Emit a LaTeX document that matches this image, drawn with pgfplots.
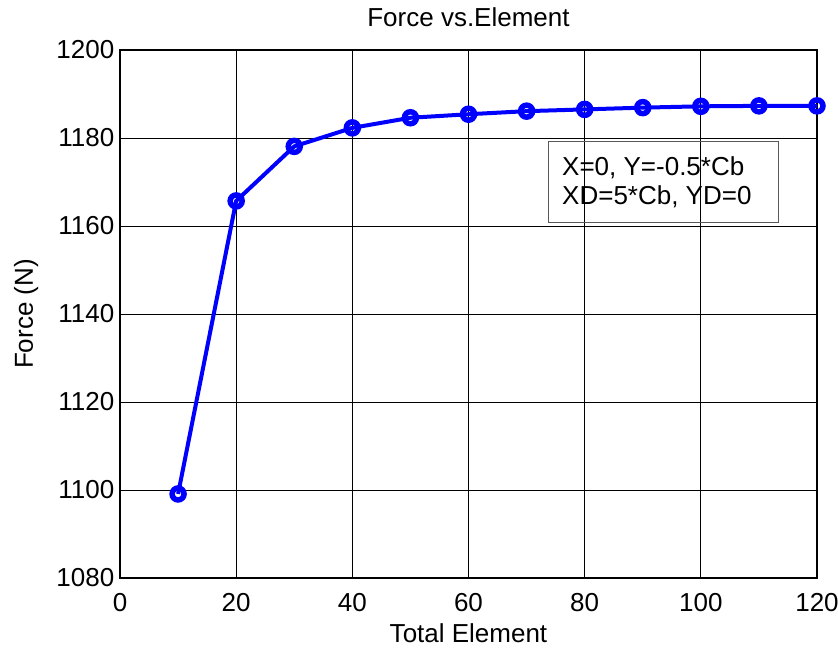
\documentclass[border=0pt]{standalone}
\usepackage{pgfplots}
\pgfplotsset{compat=1.18}
\usepackage{fontspec}
\setmainfont{Liberation Sans}

\begin{document}
\begin{tikzpicture}
% page frame, same margins as the reference around the plot area
\path[use as bounding box] (-120pt,-71pt) rectangle (718pt,578pt);
\begin{axis}[
  at={(0,0)}, anchor=south west,
  scale only axis,
  width=697pt, height=528pt,
  xmin=0, xmax=120, ymin=1080, ymax=1200,
  xtick={0,20,...,120}, ytick={1080,1100,...,1200},
  grid=major,
  major grid style={black, line width=1pt},
  axis line style={black, line width=1.2pt},
  tick style={draw=none},
  /pgf/number format/assume math mode=true,
  /pgf/number format/1000 sep={},
  tick label style={font=\fontsize{26}{30}\selectfont},
  xticklabel style={anchor=base, yshift=-33.5pt},
  yticklabel style={xshift=-2.2pt},
  title={Force vs.Element},
  title style={font=\fontsize{26}{30}\selectfont,
    at={(axis description cs:0.5,1)}, anchor=base, yshift=17pt},
  xlabel={Total Element},
  ylabel={Force (N)},
  label style={font=\fontsize{26}{30}\selectfont},
  xlabel style={at={(axis description cs:0.5,0)}, anchor=base, yshift=-64pt},
  ylabel style={at={(axis description cs:0,0.5)}, anchor=base, yshift=87pt},
]
\addplot[blue, line width=4pt, mark=o, mark size=6pt,
  mark options={line width=5.5pt}]
coordinates {
(10,1099.1) (20,1165.7) (30,1178.1) (40,1182.3) (50,1184.6) (60,1185.4)
(70,1186.1) (80,1186.5) (90,1186.9) (100,1187.2) (110,1187.3) (120,1187.3)
};
\draw[black!65, line width=1pt] (axis cs:73.7,1179.3) rectangle (axis cs:113.3,1160.75);
\node[anchor=base west, inner sep=0pt, font=\fontsize{26}{30}\selectfont]
  at (axis cs:76.1,1171.4) {X=0, Y=-0.5*Cb};
\node[anchor=base west, inner sep=0pt, font=\fontsize{26}{30}\selectfont]
  at (axis cs:76.1,1164.8) {XD=5*Cb, YD=0};
\end{axis}
\end{tikzpicture}
\end{document}
